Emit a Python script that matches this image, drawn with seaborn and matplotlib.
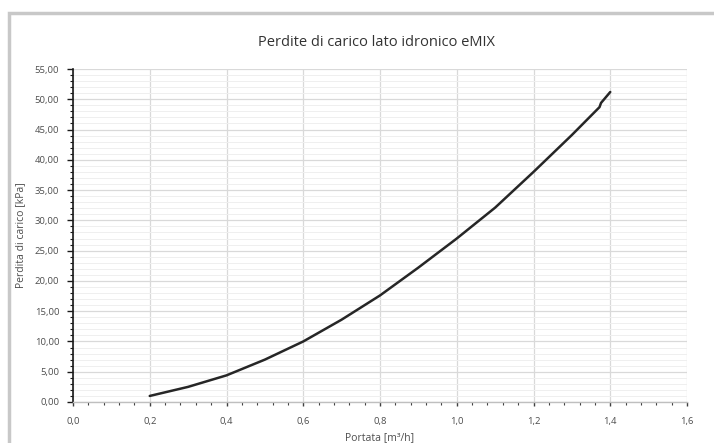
import matplotlib
matplotlib.use("Agg")
import matplotlib.pyplot as plt
import seaborn as sns
import pandas as pd
from matplotlib.ticker import MultipleLocator, FuncFormatter
from matplotlib.patches import Rectangle

portata = [0.2, 0.3, 0.4, 0.5, 0.6, 0.7, 0.8, 0.9, 1.0, 1.1, 1.2, 1.3, 1.372, 1.376, 1.4]
perdita = [1.0, 2.5, 4.4, 7.0, 10.0, 13.6, 17.6, 22.2, 27.0, 32.1, 38.0, 44.1, 48.7, 49.4, 51.2]
title = "Perdite di carico lato idronico eMIX"
xlabel = "Portata [m³/h]"
ylabel = "Perdita di carico [kPa]"

sns.set_style("white")
plt.rcParams['font.family'] = ['Open Sans', 'DejaVu Sans']

df = pd.DataFrame({"x": portata, "y": perdita})

fig = plt.figure(figsize=(7.14, 4.43), dpi=100)
ax = fig.add_axes([73/714, 1-402/443, (687-73)/714, (402-69)/443])

sns.lineplot(data=df, x="x", y="y", ax=ax, color="#262626", linewidth=1.8, sort=False)

ax.set_xlim(0, 1.6)
ax.set_ylim(0, 55)
ax.xaxis.set_major_locator(MultipleLocator(0.2))
ax.xaxis.set_minor_locator(MultipleLocator(0.04))
ax.yaxis.set_major_locator(MultipleLocator(5))
ax.yaxis.set_minor_locator(MultipleLocator(1))
ax.xaxis.set_major_formatter(FuncFormatter(lambda v, p: f"{v:.1f}".replace(".", ",")))
ax.yaxis.set_major_formatter(FuncFormatter(lambda v, p: f"{v:.2f}".replace(".", ",")))

ax.grid(which="major", color="#d9d9d9", linewidth=0.9)
ax.grid(which="minor", axis="y", color="#efefef", linewidth=0.7)
ax.set_axisbelow(True)

for s in ["top", "right"]:
    ax.spines[s].set_visible(False)
ax.spines["left"].set_color("#1a1a1a")
ax.spines["left"].set_linewidth(1.2)
ax.spines["bottom"].set_color("#bfbfbf")
ax.spines["bottom"].set_linewidth(1.0)

ax.tick_params(which="both", left=True, bottom=True, direction="out")
ax.tick_params(axis="y", which="major", length=4, width=1, color="#1a1a1a", labelsize=6.8, labelcolor="#4d4d4d", pad=6)
ax.tick_params(axis="y", which="minor", length=2.5, width=0.8, color="#1a1a1a")
ax.tick_params(axis="x", which="major", length=3, width=1, color="#404040", labelsize=6.8, labelcolor="#4d4d4d", pad=8)
ax.tick_params(axis="x", which="minor", length=2, width=0.8, color="#404040")

ax.set_xlabel(xlabel, fontsize=7.5, color="#4d4d4d", labelpad=4)
ax.set_ylabel(ylabel, fontsize=7.5, color="#4d4d4d", labelpad=6)
fig.text(0.5 * (73 + 687) / 714 - 0.005, 1 - 42/443, title, ha="center", va="center", fontsize=10.5, color="#333333")

fig.patches.append(Rectangle((8.5/714, -0.05), 1.0, 1 - 13/443 + 0.05, transform=fig.transFigure,
                             fill=False, edgecolor="#c8c8c8", linewidth=2.5))

fig.savefig("out.png", dpi=100)
